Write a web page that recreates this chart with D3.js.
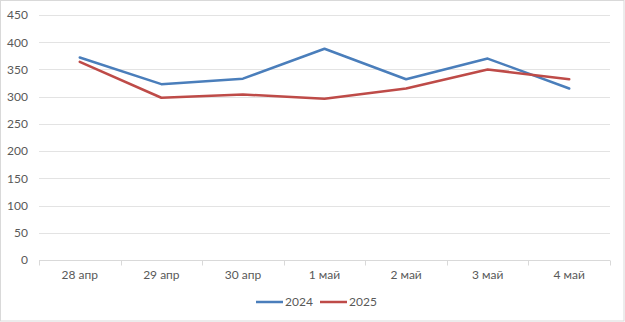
<!DOCTYPE html>
<html>
<head>
<meta charset="utf-8">
<script src="https://cdn.jsdelivr.net/npm/d3@7"></script>
<style>
  html, body { margin: 0; padding: 0; background: #fff; }
  svg { display: block; }
  text { font-family: Lato, "Open Sans", sans-serif; fill: #595959; }
</style>
</head>
<body>
<svg id="chart" width="625" height="322"></svg>
<script>
// Daily figures, 28 April – 4 May
const categories = ["28 апр", "29 апр", "30 апр", "1 май", "2 май", "3 май", "4 май"];
const series2024 = [372, 323, 333, 388, 332, 370, 315];
const series2025 = [364, 298, 304, 296, 315, 350, 332];
const yTicks = [0, 50, 100, 150, 200, 250, 300, 350, 400, 450];
const seriesNames = ["2024", "2025"];

const colors = { "2024": "#4a7ebb", "2025": "#be4b48" };
const W = 625, H = 322;
const margin = { top: 15, right: 15, bottom: 62, left: 39 };

const svg = d3.select("#chart");

// outer frame
svg.append("rect")
  .attr("x", 0.5).attr("y", 0.5)
  .attr("width", W - 1.5).attr("height", H - 1.5)
  .attr("fill", "#fff").attr("stroke", "#d9d9d9");

const x = d3.scaleBand()
  .domain(categories)
  .range([margin.left, W - margin.right]);

const y = d3.scaleLinear()
  .domain([0, 450])
  .range([H - margin.bottom, margin.top]);

// horizontal gridlines
svg.append("g")
  .selectAll("line")
  .data(yTicks.filter(d => d > 0))
  .join("line")
  .attr("x1", margin.left).attr("x2", W - margin.right)
  .attr("y1", d => Math.round(y(d)) + 0.5).attr("y2", d => Math.round(y(d)) + 0.5)
  .attr("stroke", "#e3e3e3").attr("stroke-width", 1);

// y axis labels
const yAxis = d3.axisLeft(y).tickValues(yTicks).tickSize(0).tickPadding(11);
const gy = svg.append("g")
  .attr("transform", `translate(${margin.left},0)`)
  .call(yAxis);
gy.select(".domain").remove();
gy.selectAll("text").attr("font-size", 12).style("font-family", "Lato, 'Open Sans', sans-serif").attr("fill", "#595959");

// x axis baseline with category boundary ticks
const baseY = Math.round(y(0)) + 0.5;
svg.append("line")
  .attr("x1", margin.left).attr("x2", W - margin.right)
  .attr("y1", baseY).attr("y2", baseY)
  .attr("stroke", "#d9d9d9");
const bounds = categories.map(c => x(c)).concat([x(categories[categories.length - 1]) + x.bandwidth()]);
svg.append("g")
  .selectAll("line")
  .data(bounds)
  .join("line")
  .attr("x1", d => Math.round(d) + 0.5).attr("x2", d => Math.round(d) + 0.5)
  .attr("y1", baseY).attr("y2", baseY + 5)
  .attr("stroke", "#d9d9d9");

const xAxis = d3.axisBottom(x).tickSize(0).tickPadding(10);
const gx = svg.append("g")
  .attr("transform", `translate(0,${baseY})`)
  .call(xAxis);
gx.select(".domain").remove();
gx.selectAll("text").attr("font-size", 12).style("font-family", "Lato, 'Open Sans', sans-serif").attr("fill", "#595959");

// series lines
const line = d3.line()
  .x((d, i) => x(categories[i]) + x.bandwidth() / 2)
  .y(d => y(d));

[[seriesNames[0], series2024], [seriesNames[1], series2025]].forEach(([name, vals]) => {
  svg.append("path")
    .datum(vals)
    .attr("d", line)
    .attr("fill", "none")
    .attr("stroke", colors[name])
    .attr("stroke-width", 2.5)
    .attr("stroke-linejoin", "round")
    .attr("stroke-linecap", "round");
});

// legend
const legend = svg.append("g").attr("transform", "translate(256,302)");
seriesNames.forEach((name, i) => {
  const g = legend.append("g").attr("transform", `translate(${i * 64},0)`);
  g.append("line")
    .attr("x1", 0).attr("x2", 27).attr("y1", 0).attr("y2", 0)
    .attr("stroke", colors[name]).attr("stroke-width", 2.5);
  g.append("text")
    .attr("x", 29).attr("y", 0).attr("dy", "0.35em")
    .attr("font-size", 12)
    .text(name);
});
</script>
</body>
</html>
